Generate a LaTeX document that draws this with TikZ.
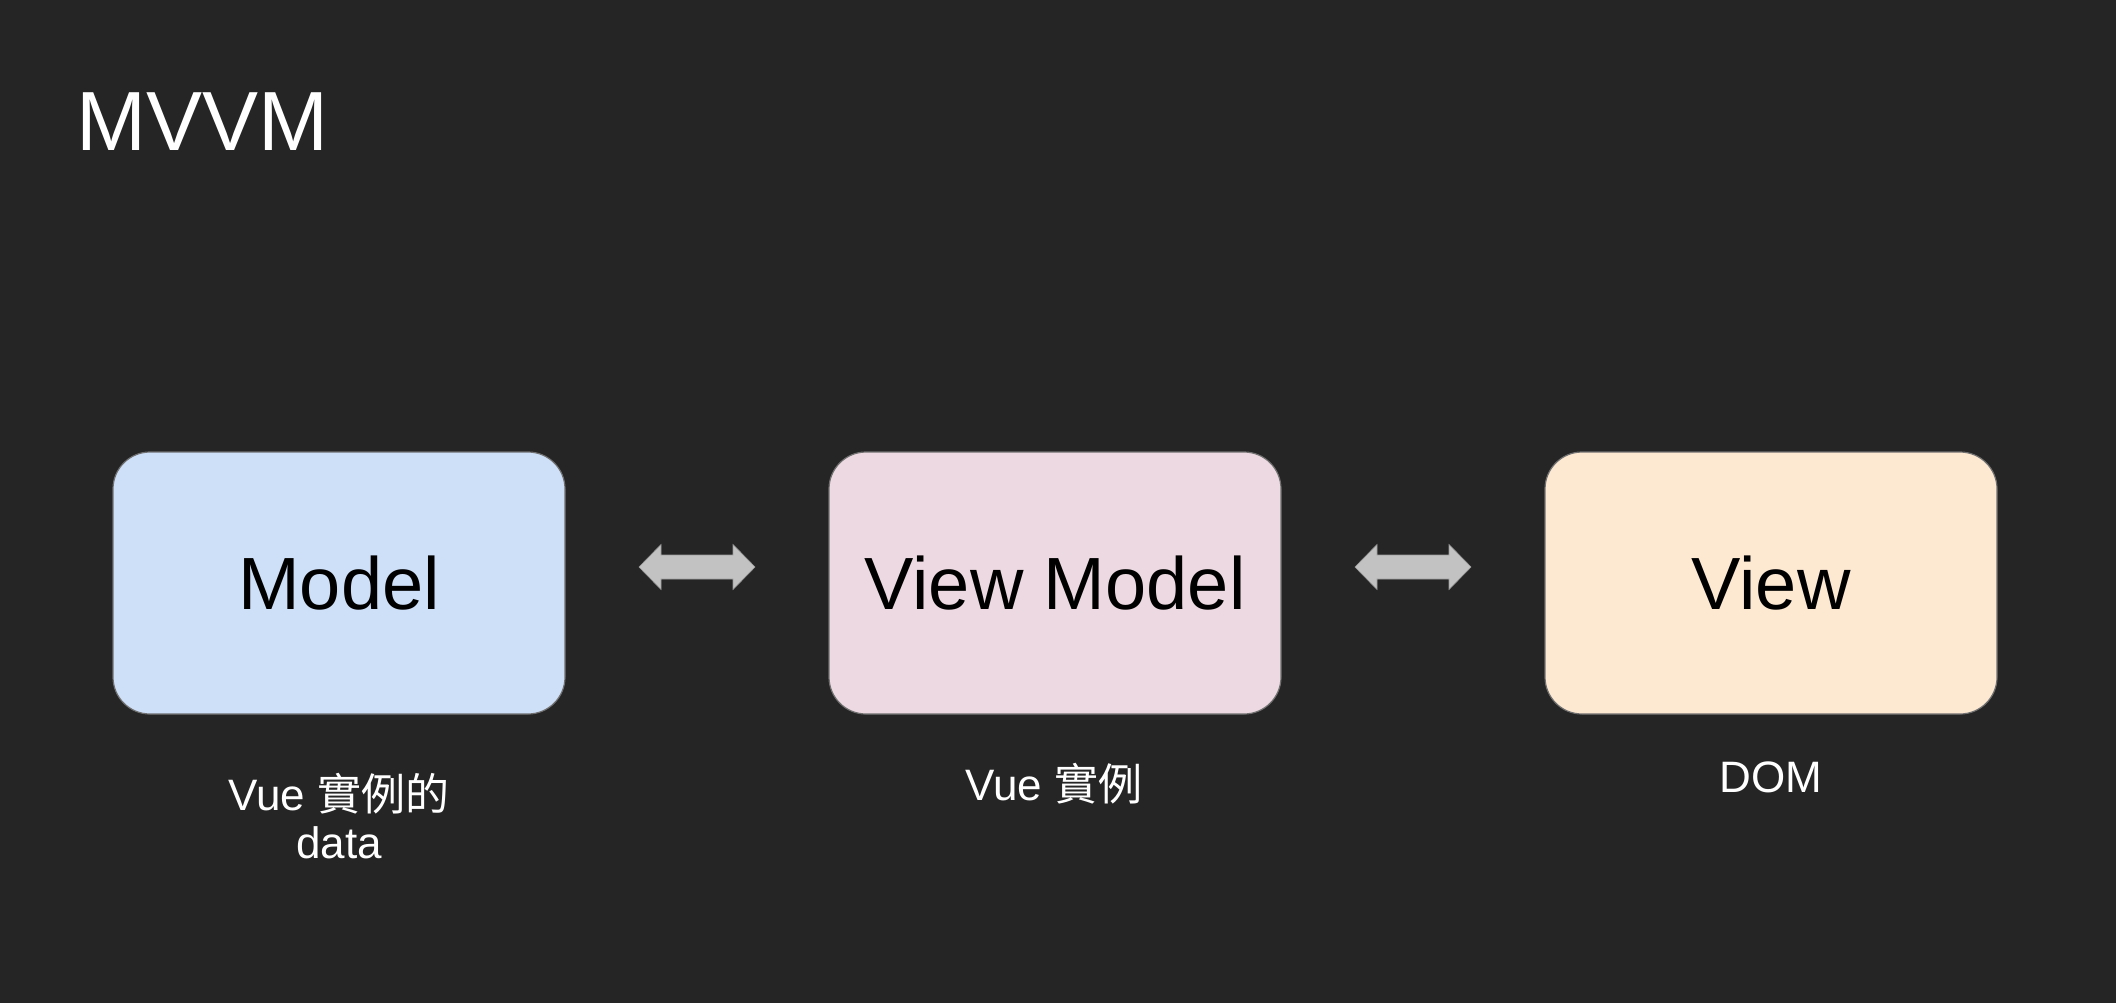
\documentclass[tikz,border=0pt]{standalone}
\usepackage{fontspec}
\usetikzlibrary{calc}
\setmainfont{Liberation Sans}
\newfontfamily\cjk{Noto Sans CJK TC}
\definecolor{bg}{HTML}{252525}
\definecolor{modelfill}{HTML}{CEDFF8}
\definecolor{vmfill}{HTML}{EDD9E1}
\definecolor{viewfill}{HTML}{FDE8D2}
\definecolor{boxline}{HTML}{707070}
\definecolor{arrowgray}{HTML}{C2C2C2}
\begin{document}
\begin{tikzpicture}[x=1pt,y=-1pt,
  box/.style={draw=boxline, line width=1.2pt, rounded corners=37pt, minimum width=452pt, minimum height=262pt, inner sep=0pt,
    font=\fontsize{74}{74}\selectfont, text=black},
  sublabel/.style={anchor=base, inner sep=0pt, text=white, font=\fontsize{44}{48}\selectfont},
  dblarrow/.style={fill=arrowgray, draw=arrowgray!80!black, line width=0.6pt}]
\useasboundingbox (0,0) rectangle (2116,1002);
\fill[bg] (-4,-4) rectangle (2120,1006);
\node[anchor=base west, inner sep=0pt, text=white, font=\fontsize{84}{84}\selectfont] (title) at (76,150) {MVVM};
\node[box, fill=modelfill] (model) at (339,583) {Model};
\node[box, fill=vmfill] (vm) at (1055,583) {View Model};
\node[box, fill=viewfill] (view) at (1771,583) {View};
\node[sublabel] (lblmodel1) at (339,810) {Vue {\cjk 實例的}};
\node[sublabel] (lblmodel2) at (339,858) {data};
\node[sublabel] (lblvm) at (1054,800) {Vue {\cjk 實例}};
\node[sublabel] (lblview) at (1771,792) {DOM};
\coordinate (a1) at ($(model.east)!0.5!(vm.west)$);
\coordinate (a2) at ($(vm.east)!0.5!(view.west)$);
\foreach \c in {a1,a2}{
  \begin{scope}[shift={(\c)}, yshift=16pt]
  \draw[dblarrow] (-58,0) -- (-36,-22.5) -- (-36,-12) -- (36,-12) -- (36,-22.5) -- (58,0)
    -- (36,22.5) -- (36,12) -- (-36,12) -- (-36,22.5) -- cycle;
  \end{scope}
}
\end{tikzpicture}
\end{document}
